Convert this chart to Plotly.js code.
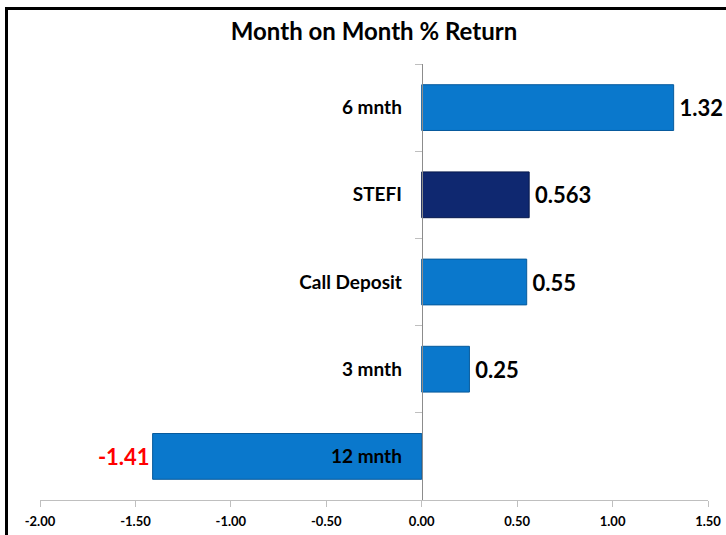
<!DOCTYPE html>
<html>
<head>
<meta charset="utf-8">
<script src="https://cdn.plot.ly/plotly-3.0.1.min.js"></script>
<style>
  html, body { margin: 0; padding: 0; background: #fff; }
  #wrap { position: relative; width: 726px; height: 535px; overflow: hidden; }
  #chart { position: absolute; left: 0; top: 0; width: 726px; height: 535px; }
  #frame { position: absolute; left: 5px; top: 7px; width: 800px; height: 600px;
           border-left: 3px solid #000; border-top: 3px solid #000; pointer-events: none; box-sizing: border-box; }
</style>
</head>
<body>
<div id="wrap">
  <div id="chart"></div>
  <div id="frame"></div>
</div>
<script>
const categories = ['12 mnth', '3 mnth', 'Call Deposit', 'STEFI', '6 mnth'];
const values = [-1.41, 0.25, 0.55, 0.563, 1.32];
const valueLabels = ['-1.41', '\u20090.25', '\u20090.55', '\u20090.563', '\u20091.32'];
const barColors = ['#0a78cc', '#0a78cc', '#0a78cc', '#0f2870', '#0a78cc'];
const lineColors = ['#075a9c', '#075a9c', '#075a9c', '#081a4d', '#075a9c'];
const labelColors = ['#ff0000', '#000000', '#000000', '#000000', '#000000'];
const xTicks = [-2, -1.5, -1, -0.5, 0, 0.5, 1, 1.5];
const xTickText = ['-2.00', '-1.50', '-1.00', '-0.50', '0.00', '0.50', '1.00', '1.50'];

const FONT = 'Lato, "Open Sans", sans-serif';

const trace = {
  type: 'bar',
  orientation: 'h',
  y: categories,
  x: values,
  text: valueLabels,
  texttemplate: '%{text}',
  textposition: 'outside',
  cliponaxis: false,
  textfont: { family: FONT, size: 22, color: labelColors, weight: 'bold' },
  marker: { color: barColors, line: { color: lineColors, width: 1 } },
  hoverinfo: 'skip'
};

const xmin = -2, xmax = 1.5;
const layout = {
  width: 726,
  height: 535,
  margin: { l: 40, r: 18, t: 64, b: 35 },
  paper_bgcolor: '#ffffff',
  plot_bgcolor: '#ffffff',
  showlegend: false,
  bargap: 0.475,
  title: {
    text: '<b>Month on Month % Return</b>',
    font: { family: FONT, size: 24, color: '#000' },
    x: 0.5, xref: 'paper', xanchor: 'center',
    y: 1 - 32 / 535, yref: 'container', yanchor: 'middle'
  },
  xaxis: {
    range: [xmin, xmax],
    tickvals: xTicks,
    ticktext: xTickText,
    ticks: 'outside',
    ticklen: 6,
    tickcolor: '#bfbfbf',
    ticklabelstandoff: 3,
    showline: true,
    linecolor: '#bfbfbf',
    linewidth: 1,
    showgrid: false,
    zeroline: false,
    tickfont: { family: FONT, size: 13, color: '#000', weight: 'bold' },
    fixedrange: true
  },
  yaxis: {
    type: 'category',
    categoryorder: 'array',
    categoryarray: categories,
    anchor: 'free',
    position: (0 - xmin) / (xmax - xmin),
    showline: true,
    linecolor: '#8c8c8c',
    linewidth: 1,
    ticks: 'outside',
    tickson: 'boundaries',
    ticklen: 7,
    tickcolor: '#bfbfbf',
    ticklabelstandoff: 16,
    showgrid: false,
    zeroline: false,
    tickfont: { family: FONT, size: 19, color: '#000', weight: 'bold' },
    fixedrange: true
  }
};

Plotly.newPlot('chart', [trace], layout, { displayModeBar: false, staticPlot: true });
</script>
</body>
</html>
